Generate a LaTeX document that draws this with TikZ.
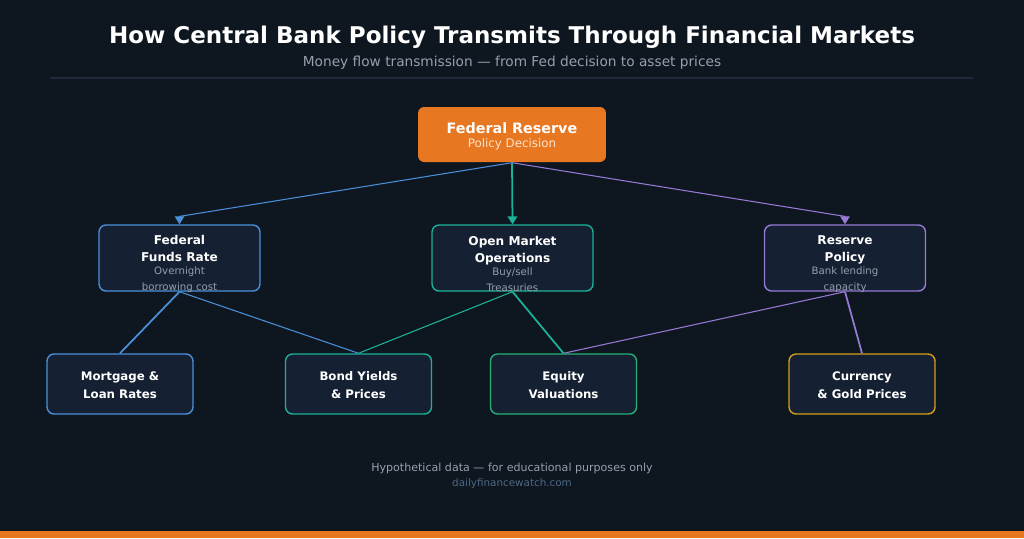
\documentclass[tikz,border=0pt]{standalone}
\usepackage{fontspec}
\setmainfont{DejaVu Sans}
\usetikzlibrary{arrows.meta, positioning}
\definecolor{bgdark}{RGB}{14,22,32}
\definecolor{boxfill}{RGB}{21,32,50}
\definecolor{fedorange}{RGB}{232,119,34}
\definecolor{fedpeach}{RGB}{253,226,202}
\definecolor{cblue}{RGB}{74,144,217}
\definecolor{cteal}{RGB}{26,178,152}
\definecolor{cgreen}{RGB}{38,176,118}
\definecolor{cpurple}{RGB}{150,122,214}
\definecolor{cgold}{RGB}{212,158,26}
\definecolor{txtgray}{RGB}{150,160,172}
\definecolor{urlblue}{RGB}{78,104,134}
\definecolor{rulegray}{RGB}{30,42,58}

\begin{document}
\begin{tikzpicture}[x=0.02cm,y=-0.02cm,
          box/.style={draw,rounded corners=4pt,fill=boxfill,line width=0.8pt,
                      align=center,inner sep=0pt,text=white},
          topbox/.style={box,minimum width=3.22cm,minimum height=1.32cm},
          toptext/.style={align=center,inner sep=0pt,text=white,
                      font=\fontsize{6.9}{9.6}\selectfont\bfseries},
          lowbox/.style={box,minimum width=2.92cm,minimum height=1.2cm,
                      font=\fontsize{6.7}{10.2}\selectfont\bfseries},
          flow/.style={-{Triangle[length=4.5pt,width=5.4pt]},line width=0.6pt},
          link/.style={line width=0.6pt},
          mainlink/.style={line width=1pt}]
        % background and frame
        \fill[bgdark] (0,0) rectangle (1024,538);
        \fill[fedorange] (0,531) rectangle (1024,538);
        \node[font=\fontsize{13.1}{16}\selectfont\bfseries,text=white](title) at (512,37)
          {How Central Bank Policy Transmits Through Financial Markets};
        \node[font=\fontsize{7.8}{9}\selectfont,text=txtgray](subtitle) at (512,62.5)
          {Money flow transmission — from Fed decision to asset prices};
        \draw[rulegray,line width=0.6pt] (50,78) -- (973,78);
        % policy source
        \node[box,draw=none,fill=fedorange,rounded corners=3.5pt,minimum width=3.76cm,
              minimum height=1.1cm](fed) at (512,134.5){};
        \node[align=center,inner sep=0pt,text=white](fedtxt) at (512,136.5)
          {{\fontsize{8.15}{9}\selectfont\bfseries Federal Reserve}\\[-4pt]
           {\fontsize{6.75}{8}\selectfont\color{fedpeach}Policy Decision}};
        % transmission channels
        \node[topbox,draw=cblue](funds) at (179.5,258){};
        \node[topbox,draw=cteal](omo) at (512.5,258){};
        \node[topbox,draw=cpurple](resv) at (845,258){};
        \node[toptext](fundstxt) at (179.5,264)
          {Federal\\Funds Rate\\[-1.8pt]
           {\fontsize{5.8}{8.4}\selectfont\mdseries\color{txtgray}Overnight}\\[-0.6pt]
           {\fontsize{5.8}{8.4}\selectfont\mdseries\color{txtgray}borrowing cost}};
        \node[toptext](omotxt) at (512.5,264)
          {Open Market\\Operations\\[-1.8pt]
           {\fontsize{5.8}{8.4}\selectfont\mdseries\color{txtgray}Buy/sell}\\[-0.6pt]
           {\fontsize{5.8}{8.4}\selectfont\mdseries\color{txtgray}Treasuries}};
        \node[toptext](resvtxt) at (845,264)
          {Reserve\\Policy\\[-1.8pt]
           {\fontsize{5.8}{8.4}\selectfont\mdseries\color{txtgray}Bank lending}\\[-0.6pt]
           {\fontsize{5.8}{8.4}\selectfont\mdseries\color{txtgray}capacity}};
        % asset prices
        \node[lowbox,draw=cblue](mort) at (120,384){};
        \node[lowbox,draw=cteal](bond) at (358.5,384){};
        \node[lowbox,draw=cgreen](equity) at (563.5,384){};
        \node[lowbox,draw=cgold](fx) at (862,384){};
        \node[lowbox,draw=none,fill=none](morttxt) at (120,385){Mortgage \&\\Loan Rates};
        \node[lowbox,draw=none,fill=none](bondtxt) at (358.5,385){Bond Yields\\\& Prices};
        \node[lowbox,draw=none,fill=none](equitytxt) at (563.5,385){Equity\\Valuations};
        \node[lowbox,draw=none,fill=none](fxtxt) at (862,385){Currency\\\& Gold Prices};
        % policy to channels
        \draw[flow,cblue](fed.south)--([yshift=4.5pt]funds.north)--(funds.north);
        \draw[flow,cteal,line width=1pt](fed.south)--(omo.north);
        \draw[flow,cpurple](fed.south)--([yshift=4.5pt]resv.north)--(resv.north);
        % channels to assets
        \draw[mainlink,cblue](funds.south)--(mort.north);
        \draw[link,cblue](funds.south)--(bond.north);
        \draw[link,cteal](omo.south)--(bond.north);
        \draw[mainlink,cteal](omo.south)--(equity.north);
        \draw[link,cpurple](resv.south)--(equity.north);
        \draw[mainlink,cpurple](resv.south)--(fx.north);
        % footer
        \node[font=\fontsize{6.3}{8}\selectfont,text=txtgray](note) at (512,468)
          {Hypothetical data — for educational purposes only};
        \node[font=\fontsize{5.9}{8}\selectfont,text=urlblue](site) at (512,483.5)
          {dailyfinancewatch.com};
      \end{tikzpicture}
\end{document}
